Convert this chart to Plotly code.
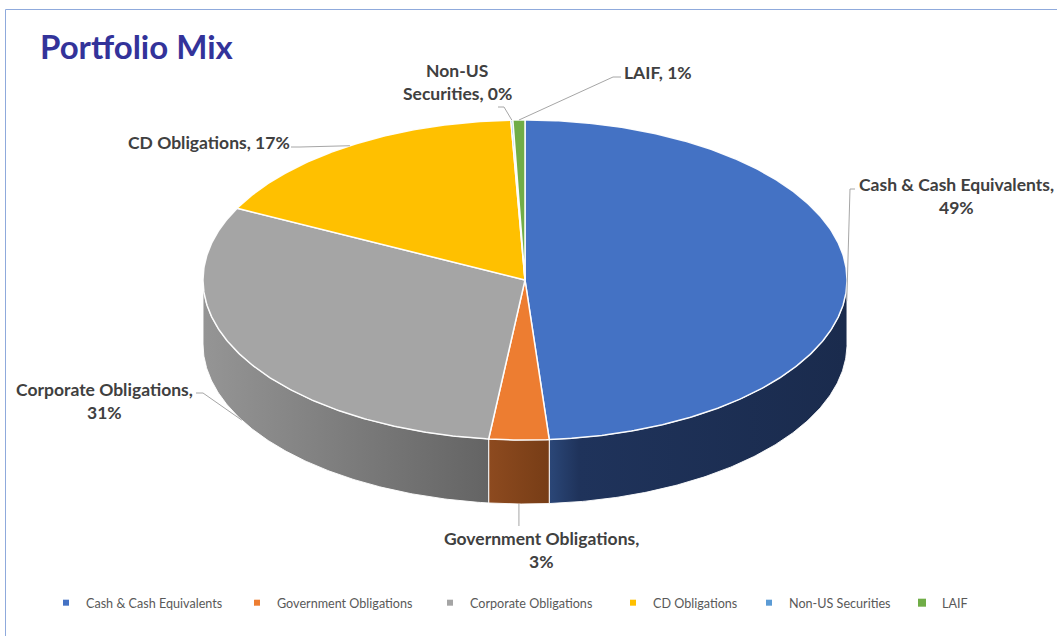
import math
import plotly.graph_objects as go

# ---------------- data ----------------
categories = ["Cash & Cash Equivalents", "Government Obligations", "Corporate Obligations",
              "CD Obligations", "Non-US Securities", "LAIF"]
values = [48.8, 3.0, 30.6, 16.9, 0.1, 0.6]

# ---------------- styles ----------------
top_colors = ["#4472C4", "#ED7D31", "#A5A5A5", "#FFC000", "#5B9BD5", "#70AD47"]
side_colors = [[[0, "#2b4778"], [0.1, "#1f335b"], [1, "#1a2b4d"]],
               [[0, "#8d4a1f"], [1, "#773d16"]],
               [[0, "#959595"], [1, "#646464"]],
               [[0, "#b38700"], [1, "#8f6c00"]],
               [[0, "#3f6f9c"], [1, "#2f5577"]],
               [[0, "#4f7a32"], [1, "#3d5f27"]]]
legend_sizes = [6, 6, 6, 6, 6, 8]
W, H = 1057, 636
CX, CY, RX, RY, DEPTH = 525, 280, 322, 160, 64
LABEL_FONT = dict(family="Lato", size=17.5, color="#404040", weight="bold")

def ell(theta):
    r = math.radians(theta)
    return CX + RX * math.sin(r), CY - RY * math.cos(r)

def arc(a0, a1):
    n = max(2, int((a1 - a0) / 0.5) + 2)
    return [ell(a0 + (a1 - a0) * i / (n - 1)) for i in range(n)]

total = sum(values)
bounds = [0.0]
for v in values:
    bounds.append(bounds[-1] + v / total * 360.0)

fig = go.Figure()

# side faces (front half of the cylinder)
for i, cat in enumerate(categories):
    a0, a1 = bounds[i], bounds[i + 1]
    s0, s1 = max(a0, 90.0), min(a1, 270.0)
    if s1 <= s0:
        continue
    top = arc(s0, s1)
    bot = [(x, y + DEPTH) for x, y in reversed(top)]
    pts = top + bot + [top[0]]
    fig.add_trace(go.Scatter(
        x=[p[0] for p in pts], y=[p[1] for p in pts], mode="lines", fill="toself",
        fillgradient=dict(type="horizontal", colorscale=side_colors[i]),
        line=dict(color="rgba(255,255,255,0.9)", width=1),
        showlegend=False, hoverinfo="skip"))

# top faces
for i, cat in enumerate(categories):
    a0, a1 = bounds[i], bounds[i + 1]
    pts = [(CX, CY)] + arc(a0, a1) + [(CX, CY)]
    fig.add_trace(go.Scatter(
        x=[p[0] for p in pts], y=[p[1] for p in pts], mode="lines", fill="toself",
        fillcolor=top_colors[i], line=dict(color="rgba(255,255,255,0.95)", width=1.5),
        name=cat, text=f"{cat}: {values[i]}%", hoverinfo="text", showlegend=False))

# ---------------- data labels ----------------
pct = [f"{round(v)}%" for v in values]
label_lines = []
for i, cat in enumerate(categories):
    if i in (0, 1, 2):
        label_lines.append([f"{cat},", pct[i]])
    elif i == 4:
        w0, w1 = cat.split(" ", 1)
        label_lines.append([w0, f"{w1}, {pct[i]}"])
    else:
        label_lines.append([f"{cat}, {pct[i]}"])

label_pos = [(956, 184), (541, 538), (104, 389), (209, 142), (457, 70), (658, 72)]
leader_start = [(855, 189), None, (196, 393), (291, 147), (498, 107), (621, 77)]
leader_elbow = [(850, 189), None, (203, 393), (300, 147), (504, 107), (613, 77)]
LINE_GAP = 23.5

annotations = []
shapes = []
for i in range(len(categories)):
    lx, ly = label_pos[i]
    for j, t in enumerate(label_lines[i]):
        annotations.append(dict(x=lx, y=ly + j * LINE_GAP, xref="x", yref="y", text=t,
                                showarrow=False, xanchor="center", yanchor="middle",
                                font=LABEL_FONT))
    mid = (bounds[i] + bounds[i + 1]) / 2
    px, py = ell(mid)
    k = min(1.0, max(0.0, 0.5 - 2 * math.cos(math.radians(mid))))
    py += DEPTH * k
    if leader_start[i] is None:
        path = f"M{px},{526} L{px},{py}"
    else:
        sx, sy = leader_start[i]
        ex, ey = leader_elbow[i]
        path = f"M{sx},{sy} L{ex},{ey} L{px},{py}"
    shapes.append(dict(type="path", path=path, xref="x", yref="y",
                       line=dict(color="#a6a6a6", width=1), layer="above"))

# chart border
shapes.append(dict(type="rect", xref="x", yref="y", x0=5.5, y0=9.5, x1=W + 20, y1=H + 20,
                   line=dict(color="#8faadc", width=1), fillcolor="rgba(0,0,0,0)", layer="below"))

# ---------------- legend (one legend per entry, positioned like the original) ----------------
legend_text_x = [86, 277, 470, 653, 789, 942]
legend_layouts = {}
for i, cat in enumerate(categories):
    lname = "legend" if i == 0 else f"legend{i + 1}"
    fig.add_trace(go.Scatter(
        x=[None], y=[None], mode="markers", name=cat, legend=lname,
        marker=dict(symbol="square", size=legend_sizes[i], color=top_colors[i]),
        showlegend=True, hoverinfo="skip"))
    legend_layouts[lname] = dict(
        x=(legend_text_x[i] - 40) / W, xanchor="left", xref="paper",
        y=1 - 603 / H, yanchor="middle", yref="paper", orientation="h",
        bgcolor="rgba(0,0,0,0)", borderwidth=0,
        font=dict(family="Lato", size=12.6, color="#595959"))

fig.update_layout(
    width=W, height=H, margin=dict(l=0, r=0, t=0, b=0),
    paper_bgcolor="white", plot_bgcolor="white",
    xaxis=dict(range=[0, W], visible=False, fixedrange=True),
    yaxis=dict(range=[H, 0], visible=False, fixedrange=True),
    title=dict(text="Portfolio Mix", x=40 / W, xanchor="left", xref="container",
               y=1 - 47 / H, yanchor="middle", yref="container",
               font=dict(family="Lato", size=33, color="#33339A", weight="bold")),
    annotations=annotations, shapes=shapes, showlegend=True,
    **legend_layouts)

fig.write_html("out.html", config={"displayModeBar": False})
